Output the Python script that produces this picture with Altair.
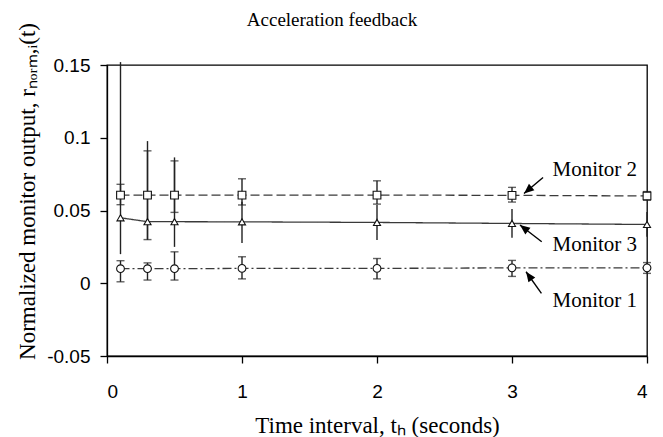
import math
import altair as alt
import pandas as pd

# ---- data ----
x_vals = [0.1, 0.3, 0.5, 1, 2, 3, 4]

m1_y  = [0.0100, 0.0100, 0.0100, 0.0102, 0.0102, 0.0106, 0.0106]
m1_lo = [0.0010, 0.0022, 0.0022, 0.0030, 0.0030, 0.0047, 0.0068]
m1_hi = [0.0155, 0.0140, 0.0216, 0.0182, 0.0170, 0.0157, 0.0142]

m2_y  = [0.0606, 0.0606, 0.0606, 0.0606, 0.0606, 0.0604, 0.0600]
m2_lo = [0.0540, 0.0300, 0.0487, 0.0538, 0.0544, 0.0558, 0.0570]
m2_hi = [0.0680, 0.0910, 0.0841, 0.0718, 0.0704, 0.0659, 0.0630]

m3_y  = [0.0450, 0.0423, 0.0423, 0.0422, 0.0418, 0.0411, 0.0404]
m3_lo = [0.0200, 0.0300, 0.0250, 0.0276, 0.0297, 0.0313, 0.0320]
m3_hi = [0.1520, 0.0977, 0.0865, 0.0560, 0.0540, 0.0510, 0.0490]

ann_text   = ["Monitor 2", "Monitor 3", "Monitor 1"]
ann_text_x = [3.30, 3.30, 3.30]
ann_text_y = [0.0777, 0.0262, -0.0120]
arrow_tail_x = [3.23, 3.22, 3.218]
arrow_tail_y = [0.0727, 0.0285, -0.0069]
arrow_head_x = [3.089, 3.059, 3.104]
arrow_head_y = [0.0617, 0.0400, 0.0079]

title_text = ["Acceleration feedback"]

x_ticks = [0, 1, 2, 3, 4]
y_ticks = [-0.05, 0, 0.05, 0.1, 0.15]

W, H = 540, 291
X_DOM = [0, 4]
Y_DOM = [-0.05, 0.15]

# ---- tables ----
rows = []
for name, ys_, lo, hi in [
    ("Monitor 1", m1_y, m1_lo, m1_hi),
    ("Monitor 2", m2_y, m2_lo, m2_hi),
    ("Monitor 3", m3_y, m3_lo, m3_hi),
]:
    for xv, yv, l, h in zip(x_vals, ys_, lo, hi):
        rows.append({"x": xv, "y": yv, "lo": l, "hi": h, "series": name})
df = pd.DataFrame(rows)

caps = []
for r in rows:
    if r["series"] in ("Monitor 1", "Monitor 2"):
        caps.append({"x": r["x"], "v": r["lo"], "series": r["series"]})
        caps.append({"x": r["x"], "v": r["hi"], "series": r["series"]})
caps_df = pd.DataFrame(caps)

sx = W / (X_DOM[1] - X_DOM[0])
sy = H / (Y_DOM[1] - Y_DOM[0])
ann_rows = []
for t, tx, ty, ax, ay, hx, hy in zip(ann_text, ann_text_x, ann_text_y,
                                     arrow_tail_x, arrow_tail_y,
                                     arrow_head_x, arrow_head_y):
    dx = (hx - ax) * sx
    dy = -(hy - ay) * sy
    ang = math.degrees(math.atan2(dx, -dy)) % 360
    ann_rows.append({"text": t, "tx": tx, "ty": ty, "ax": ax, "ay": ay,
                     "hx": hx, "hy": hy, "angle": ang})
ann_df = pd.DataFrame(ann_rows)

xs = alt.Scale(domain=X_DOM, nice=False, zero=False)
ys = alt.Scale(domain=Y_DOM, nice=False, zero=False)

X = alt.X("x:Q", scale=xs, axis=alt.Axis(
    values=x_ticks, title="Time interval, tₕ (seconds)",
    labelExpr="'' + datum.value"))
Y = alt.Y("y:Q", scale=ys, axis=alt.Axis(
    values=y_ticks, title="Normalized monitor output, rₙₒᵣₘ,ᵢ(t)",
    labelExpr="'' + datum.value", titleY=126))

LINE_COL = "#3a3a3a"
BAR_COL = "#222222"

def line_layer(name, dash):
    return alt.Chart(df).transform_filter(
        alt.datum.series == name
    ).mark_line(color=LINE_COL, strokeWidth=1.3, strokeDash=dash).encode(x=X, y=Y)

lines = [
    line_layer("Monitor 1", [9, 3, 2, 3]),
    line_layer("Monitor 2", [9, 4]),
    line_layer("Monitor 3", [1, 0]),
]

bars = alt.Chart(df).mark_rule(color=BAR_COL, strokeWidth=1.4).encode(
    x=alt.X("x:Q", scale=xs),
    y=alt.Y("lo:Q", scale=ys),
    y2="hi:Q",
)

cap_marks = alt.Chart(caps_df).mark_tick(
    orient="horizontal", color=BAR_COL, size=8, thickness=1.4
).encode(x=alt.X("x:Q", scale=xs), y=alt.Y("v:Q", scale=ys))

def marker_layer(name, shape, size):
    return alt.Chart(df).transform_filter(
        alt.datum.series == name
    ).mark_point(shape=shape, size=size, filled=True, fill="white",
                 stroke="#111", strokeWidth=1.1, opacity=1).encode(x=X, y=Y)

markers = [
    marker_layer("Monitor 1", "circle", 60),
    marker_layer("Monitor 2", "square", 60),
    marker_layer("Monitor 3", "triangle-up", 50),
]

arrow_lines = alt.Chart(ann_df).mark_rule(color="black", strokeWidth=1.4).encode(
    x=alt.X("ax:Q", scale=xs), y=alt.Y("ay:Q", scale=ys),
    x2="hx:Q", y2="hy:Q")

arrow_heads = alt.Chart(ann_df).mark_point(
    shape="M0,0 L0.42,1 L-0.42,1 Z", size=400, filled=True,
    color="black", opacity=1
).encode(x=alt.X("hx:Q", scale=xs), y=alt.Y("hy:Q", scale=ys),
         angle=alt.Angle("angle:Q", scale=None))

labels = alt.Chart(ann_df).mark_text(
    align="left", baseline="middle", font="Liberation Serif",
    fontSize=21, color="black"
).encode(x=alt.X("tx:Q", scale=xs), y=alt.Y("ty:Q", scale=ys), text="text:N")

title_mark = alt.Chart(pd.DataFrame({"t": title_text})).mark_text(
    align="center", baseline="alphabetic", font="Liberation Serif",
    fontSize=19, color="black"
).encode(x=alt.value(W / 2 - 45), y=alt.value(-39), text="t:N")

chart = alt.layer(
    *lines, bars, cap_marks, *markers, arrow_lines, arrow_heads, labels, title_mark
).properties(
    width=W, height=H,
    autosize=alt.AutoSizeParams(type="none"),
    padding={"left": 107, "top": 65, "right": 16, "bottom": 81},
).configure_view(
    stroke="black", strokeWidth=1.3
).configure_axis(
    grid=False, domainColor="black", domainWidth=1.3, tickColor="black",
    tickWidth=1.3, tickSize=7, labelFont="Liberation Sans", labelFontSize=19,
    labelColor="black", titleFont="Liberation Serif", titleFontSize=23,
    titleFontWeight="normal", titleColor="black",
).configure_axisX(
    labelPadding=19, titlePadding=13
).configure_axisY(
    labelPadding=10, titlePadding=7
)

chart.save("out.html", embed_options={"renderer": "svg", "actions": False})
